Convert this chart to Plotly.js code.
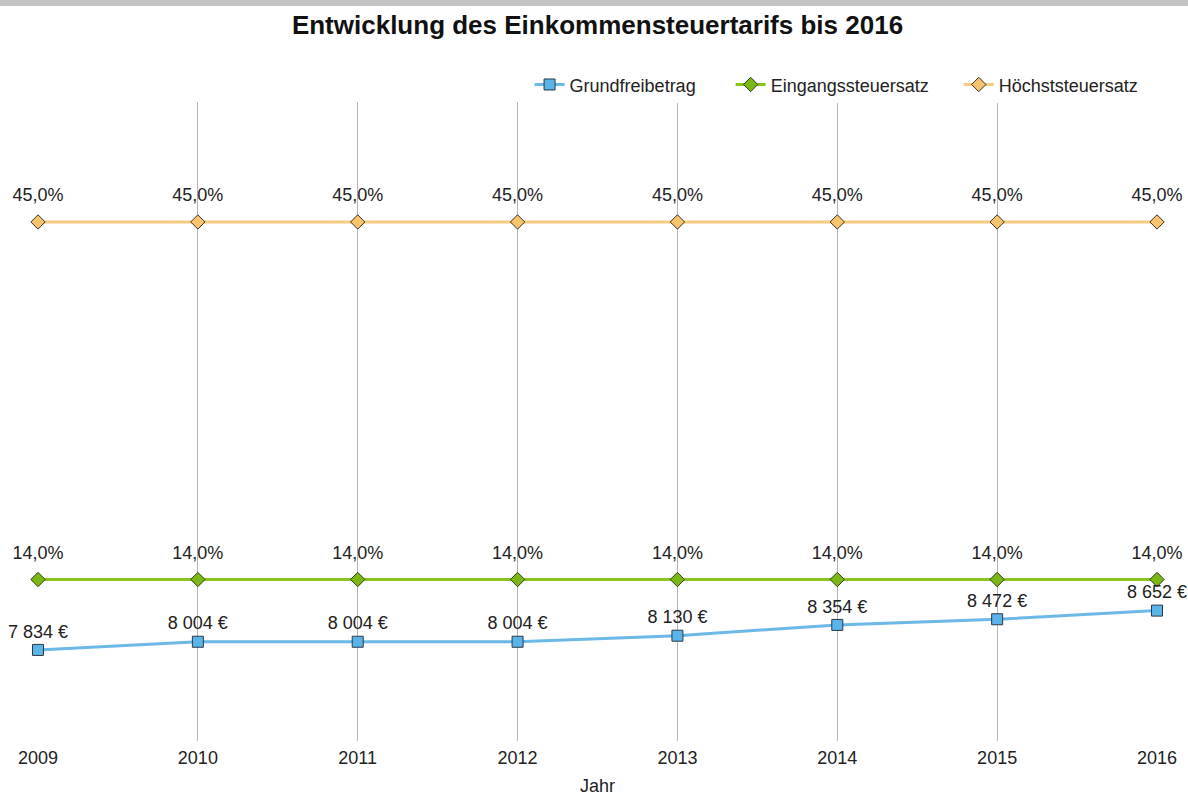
<!DOCTYPE html>
<html>
<head>
<meta charset="utf-8">
<script src="https://cdn.plot.ly/plotly-3.0.1.min.js"></script>
<style>
  html, body { margin: 0; padding: 0; background: #fff; }
  #chart { width: 1188px; height: 796px; }
</style>
</head>
<body>
<div id="chart"></div>
<script>
var years = [2009, 2010, 2011, 2012, 2013, 2014, 2015, 2016];
var grundfreibetrag = [7834, 8004, 8004, 8004, 8130, 8354, 8472, 8652];
var eingangssteuersatz = [14, 14, 14, 14, 14, 14, 14, 14];
var hoechststeuersatz = [45, 45, 45, 45, 45, 45, 45, 45];

var FONT = 'Liberation Sans, Arial, sans-serif';
var PAD = '\u00a0';

// percent labels sit a bit higher than plotly's default offset,
// so they come from a text-only copy with a wide invisible marker
function pctLabels(yvals) {
    return {
        x: years,
        y: yvals,
        type: 'scatter',
        mode: 'markers+text',
        showlegend: false,
        marker: {size: 24, color: 'rgba(0,0,0,0)'},
        texttemplate: '%{y:.1f}%',
        textposition: 'top center',
        textfont: {size: 18, color: '#222'},
        cliponaxis: false,
        hoverinfo: 'skip'
    };
}

var data = [{
    x: years,
    y: grundfreibetrag,
    name: 'Grundfreibetrag' + PAD.repeat(6),
    yaxis: 'y2',
    type: 'scatter',
    mode: 'lines+markers+text',
    line: {color: '#6cb8e6', width: 3},
    marker: {symbol: 'square', size: 11, color: '#5ab4ea', line: {color: '#2b3a45', width: 1}},
    texttemplate: '%{y:,} €',
    textposition: 'top center',
    textfont: {size: 18, color: '#222'},
    cliponaxis: false,
    hoverinfo: 'skip'
}, {
    x: years,
    y: eingangssteuersatz,
    name: 'Eingangssteuersatz' + PAD.repeat(5),
    type: 'scatter',
    mode: 'lines+markers',
    line: {color: '#8cc41e', width: 3},
    marker: {symbol: 'diamond', size: 11, color: '#7cb814', line: {color: '#2b3a1a', width: 1}},
    cliponaxis: false,
    hoverinfo: 'skip'
}, {
    x: years,
    y: hoechststeuersatz,
    name: 'Höchststeuersatz',
    type: 'scatter',
    mode: 'lines+markers',
    line: {color: '#f8cc80', width: 3},
    marker: {symbol: 'diamond', size: 11, color: '#f8c470', line: {color: '#3a3020', width: 1}},
    cliponaxis: false,
    hoverinfo: 'skip'
}, pctLabels(eingangssteuersatz), pctLabels(hoechststeuersatz)];

var layout = {
    width: 1188,
    height: 796,
    separators: ', ',
    font: {family: FONT, size: 18, color: '#222'},
    paper_bgcolor: '#fff',
    plot_bgcolor: '#fff',
    margin: {l: 38, r: 31, t: 102, b: 55},
    title: {
        text: '<b>Entwicklung des Einkommensteuertarifs bis 2016</b>',
        font: {family: FONT, size: 26, color: '#111'},
        x: 0.5, xref: 'paper', xanchor: 'center',
        y: 1 - 25 / 796, yref: 'container', yanchor: 'middle'
    },
    showlegend: true,
    legend: {
        orientation: 'h',
        x: 0.988, xanchor: 'right',
        y: 0.998, yanchor: 'bottom',
        font: {family: FONT, size: 18, color: '#222'},
        traceorder: 'normal'
    },
    xaxis: {
        range: [2009, 2016],
        tickvals: years,
        ticktext: years.map(String),
        showgrid: true,
        gridcolor: '#b4b4b4',
        gridwidth: 1,
        zeroline: false,
        showline: false,
        ticks: '',
        ticklabelstandoff: 4,
        tickfont: {family: FONT, size: 18, color: '#222'},
        title: {text: 'Jahr', font: {family: FONT, size: 18, color: '#222'}, standoff: 14}
    },
    yaxis: {
        range: [0, 55.4],
        visible: false,
        showgrid: false,
        zeroline: false
    },
    yaxis2: {
        range: [5940, 19230],
        overlaying: 'y',
        side: 'right',
        visible: false,
        showgrid: false,
        zeroline: false
    },
    shapes: [{
        type: 'rect', xref: 'paper', yref: 'paper',
        x0: -38 / 1119, x1: 1 + 31 / 1119,
        y0: 1 + 96 / 639, y1: 1 + 103 / 639,
        fillcolor: '#c4c4c4', line: {width: 0}
    }]
};

Plotly.newPlot(document.getElementById('chart'), data, layout, {displayModeBar: false, staticPlot: true});
</script>
</body>
</html>
